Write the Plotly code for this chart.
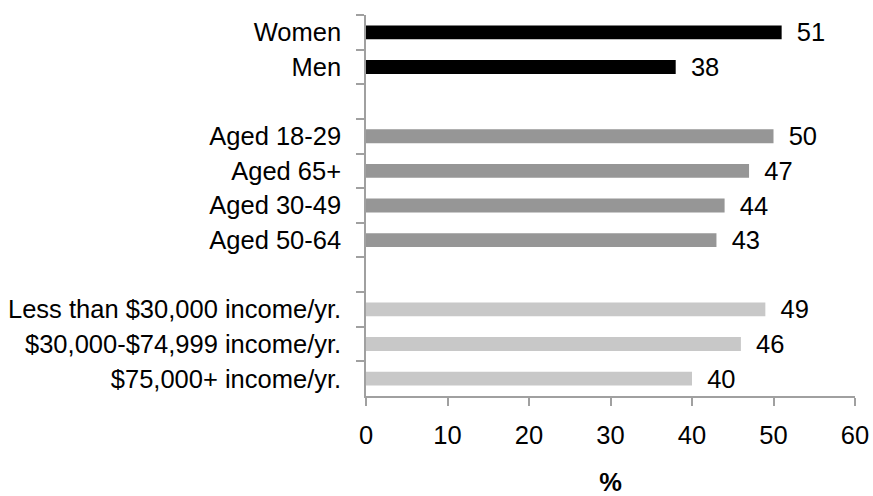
import plotly.graph_objects as go

categories = ["Women", "Men", " ",
              "Aged 18-29", "Aged 65+", "Aged 30-49", "Aged 50-64", "  ",
              "Less than $30,000 income/yr.", "$30,000-$74,999 income/yr.", "$75,000+ income/yr."]
values = [51, 38, None, 50, 47, 44, 43, None, 49, 46, 40]
groups = ["sex", "sex", None, "age", "age", "age", "age", None, "inc", "inc", "inc"]
group_colors = {"sex": "#000000", "age": "#969696", "inc": "#c8c8c8", None: "rgba(0,0,0,0)"}
x_ticks = [0, 10, 20, 30, 40, 50, 60]

colors = [group_colors[g] for g in groups]
texts = ["" if v is None else f"{v}" for v in values]
FONT = "Liberation Sans, Arial, sans-serif"
FS = 25.5

fig = go.Figure()
fig.add_trace(go.Bar(
    y=categories, x=[0 if v is None else v for v in values], orientation="h",
    marker=dict(color=colors, line=dict(width=0)),
    text=texts, textposition="outside", texttemplate=" \u2009%{text}",
    constraintext="none",
    textfont=dict(family=FONT, size=FS, color="#000000"),
    cliponaxis=False, hoverinfo="skip",
))
fig.update_layout(
    width=873, height=496,
    margin=dict(l=366, r=18, t=15, b=100),
    paper_bgcolor="white", plot_bgcolor="white",
    bargap=0.6, showlegend=False,
    font=dict(family=FONT, size=FS, color="#000000"),
)
fig.update_yaxes(
    type="category", categoryorder="array", categoryarray=categories,
    autorange="reversed", tickson="boundaries", automargin=False,
    ticks="outside", ticklen=8, tickcolor="#a0a0a0", tickwidth=1.5,
    showline=True, linecolor="#a0a0a0", linewidth=1.5,
    showgrid=False, ticklabelstandoff=18,
    tickfont=dict(family=FONT, size=FS, color="#000000"),
)
fig.update_xaxes(
    range=[0, 60], tickvals=x_ticks, ticks="outside", ticklen=8,
    tickcolor="#a0a0a0", tickwidth=1.5, automargin=False,
    showline=True, linecolor="#a0a0a0", linewidth=1.5,
    showgrid=False, zeroline=False, ticklabelstandoff=8,
    ticklabeloverflow="allow",
    tickfont=dict(family=FONT, size=FS, color="#000000"),
    title=dict(text="<b>%</b>", font=dict(family=FONT, size=FS), standoff=30),
)
fig.write_html(
    "out.html",
    config={"displayModeBar": False},
    post_script="document.body.style.margin='0';document.documentElement.style.overflow='hidden';",
)
